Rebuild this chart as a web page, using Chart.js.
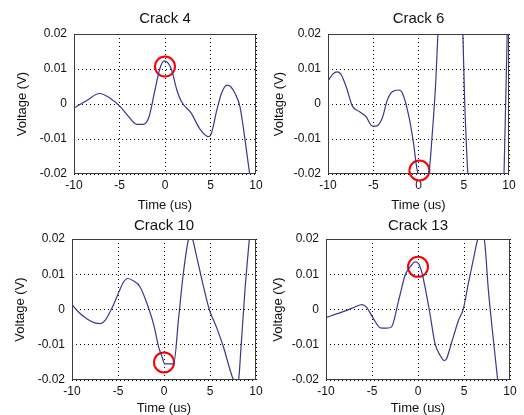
<!DOCTYPE html>
<html lang="en">
<head>
<meta charset="UTF-8">
<title>Crack signals</title>
<script src="https://cdn.jsdelivr.net/npm/chart.js"></script>
<style>
  body { margin: 0; background: #fff; }
  #wrap { position: relative; width: 524px; height: 415px; overflow: hidden; }
  canvas { position: absolute; }
</style>
</head>
<body>
<div id="wrap">
  <canvas id="c4"  width="275" height="215" style="left:0;top:0"></canvas>
  <canvas id="c6"  width="262" height="215" style="left:262px;top:0"></canvas>
  <canvas id="c10" width="275" height="208" style="left:0;top:207px"></canvas>
  <canvas id="c13" width="262" height="208" style="left:262px;top:207px"></canvas>
</div>
<script>
// values (time in us, voltage in V)
const crack4T = [-10, -8.6, -7.2, -6.0, -4.9, -4.0, -3.1, -2.4, -1.8, -1.1, -0.55, -0.1, 0.37, 0.73, 1.3, 1.8, 2.9, 3.8, 4.76, 5.0, 5.7, 6.2, 6.8, 7.2, 7.7, 8.24, 8.8, 9.3, 10];
const crack4V = [-0.0012, 0.001, 0.003, 0.0016, -0.0008, -0.0036, -0.0058, -0.0058, -0.004, 0.004, 0.0102, 0.0123, 0.0116, 0.0097, 0.004, 0.0007, -0.0027, -0.007, -0.0093, -0.009, -0.0017, 0.003, 0.0054, 0.005, 0.003, -0.0008, -0.0103, -0.02, -0.034];

const crack6T = [-10, -9.45, -9.0, -8.6, -8.0, -7.3, -6.5, -5.8, -5.1, -4.7, -4.0, -3.45, -2.9, -2.2, -1.8, -1.1, -0.55, -0.18, 0.4, 1.13, 1.5, 1.9, 2.15, 2.8, 3.5, 4.3, 4.9, 5.1, 5.45, 6.2, 7.5, 8.8, 9.45, 9.8, 10];
const crack6V = [0.0066, 0.0086, 0.0092, 0.0086, 0.005, -0.0006, -0.0022, -0.0036, -0.0063, -0.0063, -0.004, 0.0011, 0.0035, 0.004, 0.0032, -0.0031, -0.0112, -0.0184, -0.0225, -0.02, -0.0093, 0.006, 0.02, 0.038, 0.045, 0.038, 0.02, 0.001, -0.02, -0.045, -0.055, -0.045, -0.02, 0.02, 0.035];

const crack10T = [-10, -9.3, -8.4, -7.5, -6.9, -6.4, -5.6, -4.9, -4.4, -3.95, -3.3, -2.6, -1.85, -1.1, -0.58, -0.2, 0.07, 0.5, 1.05, 1.6, 2.1, 2.67, 2.9, 3.1, 3.55, 4.3, 4.95, 5.7, 6.47, 7.2, 7.55, 7.85, 8.1, 8.35, 8.8, 9.28, 10];
const crack10V = [0.0014, -0.0007, -0.0026, -0.0038, -0.004, -0.0031, 0.0007, 0.005, 0.0078, 0.0088, 0.0081, 0.0064, 0.0017, -0.0045, -0.0107, -0.0135, -0.0154, -0.0154, -0.0154, -0.0021, 0.0102, 0.02, 0.0208, 0.02, 0.015, 0.0064, -0.0002, -0.005, -0.0107, -0.0173, -0.02, -0.0208, -0.02, -0.0116, 0.0055, 0.02, 0.04];

const crack13T = [-10, -9.0, -7.9, -6.85, -6.1, -5.6, -4.85, -4.1, -3.4, -2.9, -2.1, -1.4, -0.7, -0.33, 0.04, 0.4, 0.76, 1.3, 1.85, 2.4, 2.86, 3.1, 3.66, 4.4, 4.93, 5.47, 6.0, 6.5, 6.85, 7.2, 7.65, 8.2, 8.66, 9.2, 10];
const crack13V = [-0.0023, -0.0014, -0.0004, 0.0007, 0.0014, 0.0007, -0.0026, -0.0052, -0.0053, -0.005, 0.0026, 0.0097, 0.0126, 0.0135, 0.0131, 0.0107, 0.0064, -0.0012, -0.0097, -0.013, -0.0145, -0.014, -0.0093, -0.0031, 0.0002, 0.0074, 0.014, 0.02, 0.0215, 0.02, 0.0055, -0.0088, -0.02, -0.032, -0.05];

// red circles (one per panel)
const markT = [0, 0.1, 0, 0];
const markV = [0.0107, -0.019, -0.015, 0.0121];

const titles = ['Crack 4', 'Crack 6', 'Crack 10', 'Crack 13'];
const xTicks = [-10, -5, 0, 5, 10];
const yTicks = [-0.02, -0.01, 0, 0.01, 0.02];

Chart.defaults.font.family = "'Liberation Sans', Arial, sans-serif";
Chart.defaults.color = '#111';

// MATLAB-like box round the axes
const boxPlugin = {
  id: 'box',
  beforeDatasetsDraw(chart) {
    const a = chart.chartArea, ctx = chart.ctx;
    ctx.save();
    ctx.strokeStyle = '#3a3a3a';
    ctx.lineWidth = 1;
    ctx.strokeRect(Math.round(a.left) + 0.5, Math.round(a.top) + 0.5,
                   Math.round(a.right - a.left) - 1, Math.round(a.bottom - a.top) - 1);
    ctx.restore();
  }
};

function panel(id, i, t, v, lay) {
  new Chart(document.getElementById(id), {
    type: 'line',
    data: {
      datasets: [{
        data: t.map((x, k) => ({ x, y: v[k] })),
        borderColor: '#38388e',
        borderWidth: 1.2,
        pointRadius: 0,
        cubicInterpolationMode: 'monotone'
      }, {
        data: [{ x: markT[i], y: markV[i] }],
        showLine: false,
        pointRadius: 10,
        pointBorderWidth: 2,
        pointBorderColor: '#ff0000',
        pointBackgroundColor: 'rgba(0,0,0,0)',
        clip: false
      }]
    },
    options: {
      responsive: false,
      animation: false,
      events: [],
      layout: { padding: { left: 0, right: lay.R, top: 0, bottom: 0 } },
      plugins: {
        legend: { display: false },
        tooltip: { enabled: false },
        title: {
          display: true, text: titles[i], fullSize: false,
          font: { size: 15, weight: 'normal' },
          padding: { top: lay.tt, bottom: lay.tb }
        }
      },
      scales: {
        x: {
          type: 'linear', min: -10, max: 10,
          afterBuildTicks: s => { s.ticks = xTicks.map(value => ({ value })); },
          afterFit: s => { s.height = lay.B; },
          ticks: { font: { size: 12 }, padding: 4, maxRotation: 0 },
          grid: { color: '#000', drawTicks: false },
          border: { display: false, dash: [1, 3] },
          title: { display: true, text: 'Time (us)', font: { size: 13 }, padding: { top: 0, bottom: lay.xp } }
        },
        y: {
          min: -0.02, max: 0.02,
          afterBuildTicks: s => { s.ticks = yTicks.map(value => ({ value })); },
          afterFit: s => { s.width = lay.L; },
          ticks: { font: { size: 12 }, padding: 7, callback: val => val === 0 ? '0' : val.toFixed(2) },
          grid: { color: '#000', drawTicks: false },
          border: { display: false, dash: [1, 3] },
          title: { display: true, text: 'Voltage (V)', font: { size: 13 }, padding: { top: lay.yp, bottom: 0 } }
        }
      }
    },
    plugins: [boxPlugin]
  });
}

panel('c4',  0, crack4T,  crack4V,  { L: 74, R: 19, B: 41, tt: 10, tb: 6, xp: 2, yp: 15 });
panel('c6',  1, crack6T,  crack6V,  { L: 66, R: 15, B: 41, tt: 10, tb: 6, xp: 2, yp: 10 });
panel('c10', 2, crack10T, crack10V, { L: 72, R: 19, B: 35, tt: 10, tb: 4, xp: -1, yp: 13 });
panel('c13', 3, crack13T, crack13V, { L: 64, R: 14, B: 35, tt: 10, tb: 4, xp: -1, yp: 9 });
</script>
</body>
</html>
